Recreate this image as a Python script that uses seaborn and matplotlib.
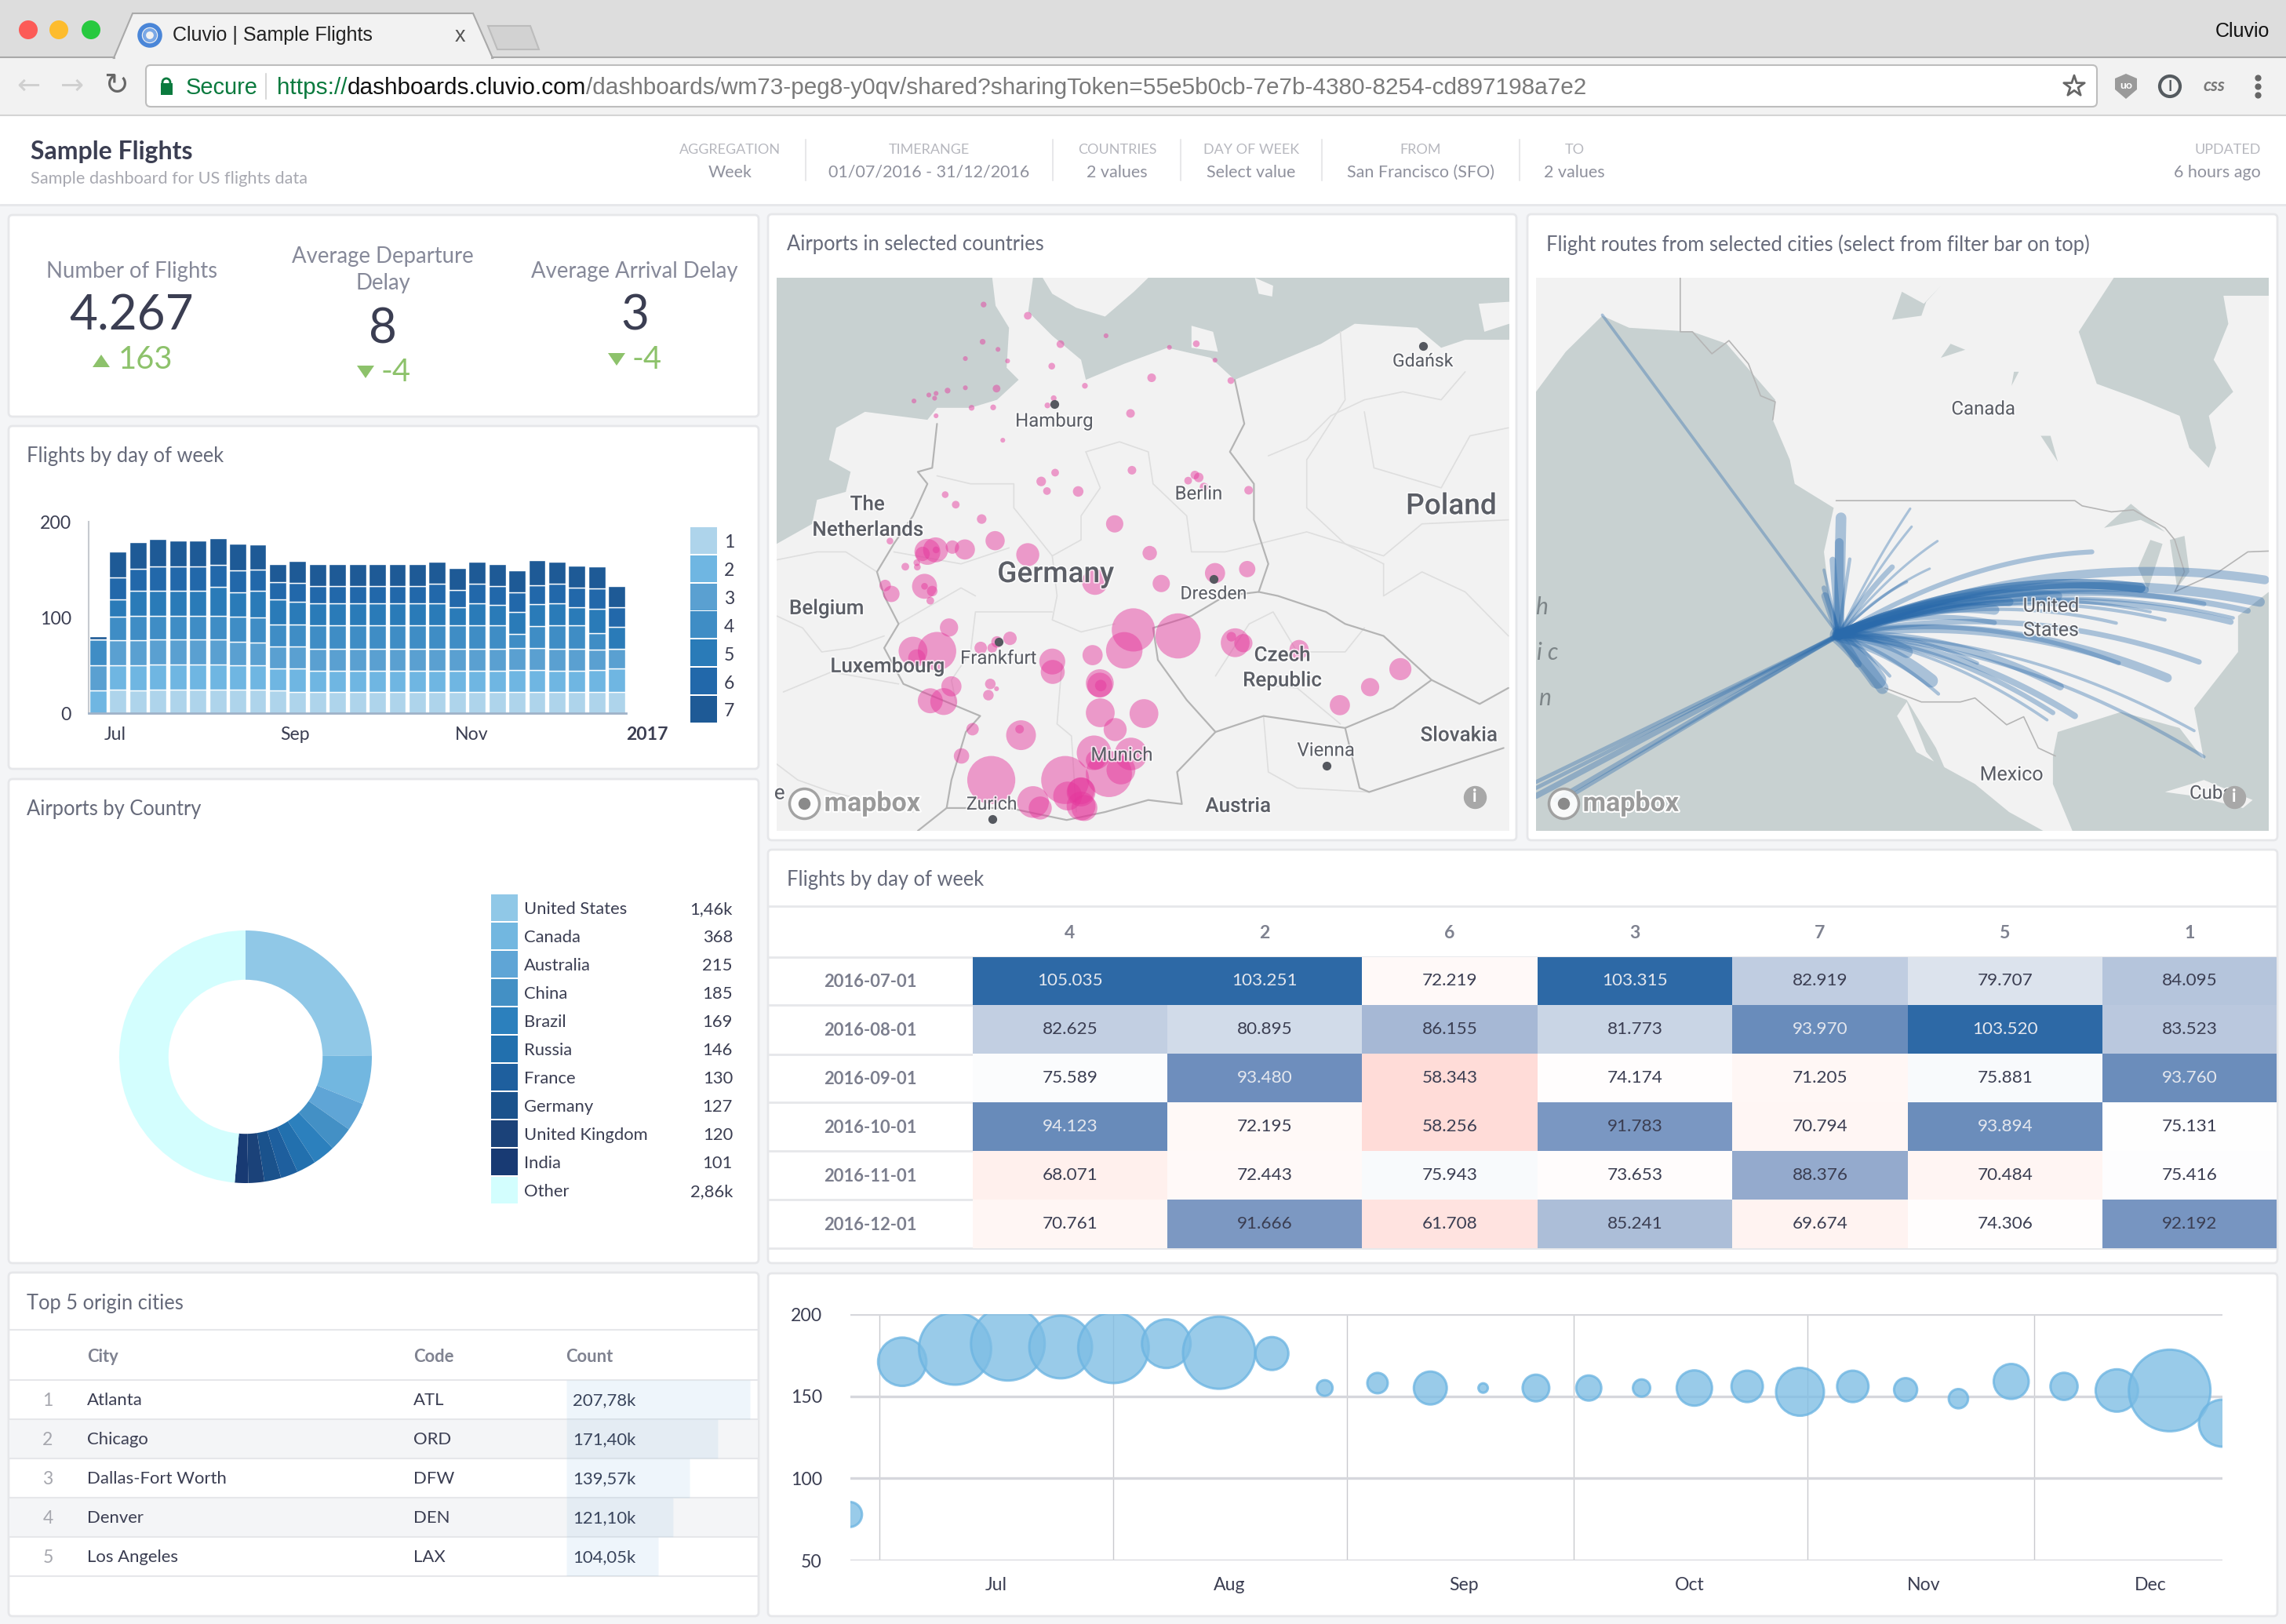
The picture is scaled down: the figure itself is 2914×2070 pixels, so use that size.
"""
Cluvio "Sample Flights" dashboard inside a browser window
"""

import matplotlib
matplotlib.use("Agg")
import matplotlib.pyplot as plt
import matplotlib.dates as mdates
from matplotlib.colors import LinearSegmentedColormap
from matplotlib.patches import FancyBboxPatch, Polygon, Rectangle, Circle
from matplotlib.transforms import ScaledTranslation
import matplotlib.patheffects as pe
import seaborn as sns
import numpy as np
import pandas as pd

W, H = 2914, 2070

# ---- bars: flights per week, stacked by day of week
week_idx = list(range(27))
day_1 = [0, 25, 24, 25, 25, 25, 25, 25, 25, 24, 22, 22, 22, 22, 22, 22, 22, 22, 22, 22, 22, 22, 22, 22, 22, 22, 22]
day_2 = [24, 25, 26, 26, 26, 26, 26, 25, 25, 23, 25, 22, 22, 22, 22, 22, 22, 22, 22, 22, 22, 23, 23, 22, 22, 23, 25]
day_3 = [26, 26, 26, 26, 26, 26, 26, 25, 24, 23, 23, 23, 23, 23, 23, 23, 23, 23, 23, 23, 23, 23, 23, 23, 23, 21, 20]
day_4 = [27, 25, 26, 25, 25, 25, 25, 26, 26, 23, 23, 25, 25, 25, 25, 25, 25, 25, 25, 25, 25, 15, 23, 25, 25, 18, 0]
day_5 = [0, 18, 26, 26, 26, 26, 30, 25, 28, 26, 23, 23, 23, 23, 23, 23, 23, 23, 19, 23, 21, 23, 23, 23, 19, 25, 23]
day_6 = [0, 23, 23, 25, 25, 25, 23, 23, 22, 18, 20, 18, 18, 18, 18, 18, 18, 20, 18, 20, 20, 20, 20, 20, 20, 21, 21]
day_7 = [3, 27, 28, 29, 27, 27, 28, 28, 26, 19, 23, 23, 23, 23, 23, 23, 23, 23, 23, 23, 23, 23, 26, 23, 23, 23, 22]
day_series = [day_1, day_2, day_3, day_4, day_5, day_6, day_7]
day_names = ["1", "2", "3", "4", "5", "6", "7"]
day_colors = ["#aed4eb", "#6fb6e2", "#5aa0d1", "#3f8dc5", "#2a7bb8", "#2268aa", "#1e5a96"]
bar_tick_pos = [0.07, 8.94, 17.66, 26.06]
bar_tick_labels = ["Jul", "Sep", "Nov", "2017"]

# ---- donut
countries = ["United States", "Canada", "Australia", "China", "Brazil", "Russia", "France",
             "Germany", "United Kingdom", "India", "Other"]
airports = [1460, 368, 215, 185, 169, 146, 130, 127, 120, 101, 2860]
airport_labels = ["1,46k", "368", "215", "185", "169", "146", "130", "127", "120", "101", "2,86k"]
country_colors = ["#90c8e7", "#72b7e0", "#5fa5d6", "#4390c5", "#2c80bd", "#2270ae", "#1e5f9e",
                  "#1a528c", "#1b4279", "#183a73", "#d3fefe"]

# ---- top 5 table
cities = ["Atlanta", "Chicago", "Dallas-Fort Worth", "Denver", "Los Angeles"]
codes = ["ATL", "ORD", "DFW", "DEN", "LAX"]
city_counts = [207.78, 171.40, 139.57, 121.10, 104.05]
city_count_labels = ["207,78k", "171,40k", "139,57k", "121,10k", "104,05k"]

# ---- heatmap
heat_cols = ["4", "2", "6", "3", "7", "5", "1"]
heat_rows = ["2016-07-01", "2016-08-01", "2016-09-01", "2016-10-01", "2016-11-01", "2016-12-01"]
heat_4 = [105.035, 82.625, 75.589, 94.123, 68.071, 70.761]
heat_2 = [103.251, 80.895, 93.480, 72.195, 72.443, 91.666]
heat_6 = [72.219, 86.155, 58.343, 58.256, 75.943, 61.708]
heat_3 = [103.315, 81.773, 74.174, 91.783, 73.653, 85.241]
heat_7 = [82.919, 93.970, 71.205, 70.794, 88.376, 69.674]
heat_5 = [79.707, 103.520, 75.881, 93.894, 70.484, 74.306]
heat_1 = [84.095, 83.523, 93.760, 75.131, 75.416, 92.192]
heat_values = [heat_4, heat_2, heat_6, heat_3, heat_7, heat_5, heat_1]

# ---- bubbles: weekly flights and bubble radius
bubble_weeks = pd.date_range("2016-06-27", periods=27, freq="7D")
bubble_flights = [78, 171, 179, 182, 180, 179.5, 182, 176.5, 176, 155, 158, 155, 155, 155, 155, 155,
                  155, 156, 152.7, 156, 154, 148.5, 159, 156, 153.5, 153.5, 133.6]
bubble_radius = [16, 30.8, 46, 47, 40, 45, 31, 46, 21, 10, 13, 21, 6, 17, 16, 11, 22.5, 20, 30.5,
                 20, 14.7, 12.3, 22.3, 17.3, 27, 52, 30]

# ---- map of airports, position on the map crop and radius
airport_x = [447, 539, 445, 477, 607, 702, 834, 890, 929, 409, 497, 589, 797, 962, 658, 474, 409, 372, 348, 333,
             345, 302, 422, 467, 580, 593, 348, 753, 487, 756, 596, 567, 579, 644, 367, 389, 443, 720, 873, 887,
             895, 906, 999, 252, 471, 539, 347, 330, 320, 348, 382, 408, 793, 284, 308, 309, 929, 996, 817, 679,
             324, 324, 340, 242, 255, 336, 759, 852, 740, 375, 502, 475, 441, 465, 300, 350, 308, 971, 963, 988,
             1104, 674, 590, 591, 689, 689, 691, 1315, 1252, 1189, 380, 461, 474, 457, 336, 364, 690, 781, 721,
             525, 522, 424, 401, 677, 754, 463, 617, 708, 733, 680, 650, 650, 622, 650, 550, 565, 657]
airport_y = [232, 260, 325, 344, 331, 310, 339, 330, 371, 367, 373, 386, 415, 422, 435, 442, 440, 447, 454, 458,
             466, 473, 490, 489, 484, 466, 510, 504, 571, 646, 652, 674, 698, 699, 707, 732, 768, 780, 672, 658,
             664, 688, 696, 823, 822, 857, 845, 850, 855, 845, 838, 844, 853, 887, 877, 888, 903, 893, 929, 925,
             936, 936, 948, 934, 955, 972, 1045, 1060, 1096, 1039, 1066, 1075, 1090, 1090, 1098, 1098, 1115, 1077,
             1062, 1078, 1094, 1108, 1124, 1150, 1178, 1183, 1184, 1143, 1188, 1233, 1186, 1180, 1192, 1208, 1222,
             1224, 1252, 1254, 1294, 1308, 1293, 1293, 1360, 1352, 1355, 1420, 1420, 1405, 1395, 1370, 1450, 1447,
             1460, 1485, 1475, 1490, 1490]
airport_r = [6, 8, 6, 5, 8, 5, 5, 7, 5, 5, 5, 7, 9, 7, 6, 8, 5, 6, 5, 5, 5, 5, 6, 6, 6, 6, 5, 9, 5, 9, 8, 10, 8, 11,
             7, 8, 10, 18, 8, 9, 10, 9, 9, 7, 20, 24, 26, 27, 15, 7, 14, 21, 15, 8, 7, 7, 21, 17, 18, 27, 26, 7, 11,
             12, 17, 8, 45, 47, 38, 19, 14, 12, 13, 10, 30, 40, 18, 30, 10, 19, 20, 21, 27, 25, 29, 26, 12, 23, 19,
             21, 21, 11, 5, 11, 26, 28, 30, 30, 24, 31, 9, 13, 16, 36, 34, 50, 50, 48, 30, 20, 30, 28, 30, 30, 33,
             24, 27]

# ---- flight routes from SFO, destination on the map crop and line width
route_x = [1170, 1525, 1515, 1490, 1455, 1460, 1400, 1320, 1290, 1220, 1270, 1270, 1280, 1100, 1000, 970, 970, 1390,
           1325, 1225, 1380, 1400, 1135, 1105, 1090, 1078, 840, 855, 790, 935, 655, 650, 638, 673, 620, 797, 800, 853,
           837, 760, 790, 620, 622, 730, 740, 755, 690, 165, 29, 29, 70, 100, 29]
route_y = [850, 920, 975, 997, 1025, 1015, 980, 1020, 1000, 1028, 940, 940, 945, 960, 975, 995, 1027, 1125,
           1165, 1128, 1297, 1362, 1260, 1187, 1252, 1270, 1172, 1205, 1100, 1128, 765, 825, 870, 868, 895, 742, 787,
           823, 892, 888, 925, 940, 960, 1170, 1190, 1160, 1130, 258, 1425, 1460, 1470, 1460, 1440]
route_w = [10, 18, 20, 12, 12, 7, 10, 7, 6, 7, 20, 20, 14, 18, 18, 20, 10, 11, 18, 9, 6, 7, 13, 15, 10, 6, 28, 7, 25,
           7, 22, 18, 13, 7, 6, 5, 5, 5, 5, 11, 6, 10, 15, 36, 25, 7, 15, 6, 8, 12, 10, 8, 8]

# ---- map outlines, on the same crop coordinates
germany_sea = [(16, 165), (465, 165), (472, 235), (500, 290), (495, 390), (520, 420), (475, 470), (420, 490), (350, 490),
               (330, 520), (200, 500), (140, 540), (125, 620), (170, 650), (160, 700), (100, 720), (90, 780), (16, 830)]
baltic_sea = [(550, 165), (1542, 165), (1542, 320), (1450, 320), (1400, 340), (1350, 290), (1220, 280), (1150, 330),
              (970, 420), (920, 365), (830, 340), (740, 380), (660, 420), (650, 370), (590, 310), (540, 250)]
baltic_land = [
    [(570, 165), (790, 165), (760, 200), (700, 262), (640, 240), (590, 205)],
    [(880, 285), (925, 300), (935, 350), (880, 340)],
    [(1012, 165), (1050, 185), (1048, 212), (1020, 205)],
    [(1478, 230), (1542, 225), (1542, 280), (1490, 300)],
]
country_lines = [
    [(350, 530), (340, 640), (310, 650), (330, 680), (300, 760), (260, 830), (225, 900), (240, 960), (270, 1030),
     (240, 1090), (280, 1180), (380, 1230), (440, 1260), (410, 1300), (380, 1420), (370, 1490), (310, 1547)],
    [(970, 420), (990, 530), (960, 600), (1010, 680), (1010, 770), (1040, 880), (1020, 950), (950, 960), (880, 1010),
     (800, 1040), (810, 1120), (870, 1220), (930, 1300), (850, 1400), (860, 1480), (790, 1470), (700, 1500), (620, 1520),
     (500, 1490), (370, 1490)],
    [(1020, 950), (1060, 960), (1160, 1000), (1200, 1030), (1280, 1060), (1380, 1170), (1300, 1240), (1200, 1290),
     (1030, 1260), (930, 1300)],
    [(1200, 1290), (1230, 1440), (1250, 1450), (1530, 1340)],
    [(1380, 1170), (1480, 1230), (1540, 1190)],
]
region_lines = [
    [(660, 600), (730, 575), (790, 600), (800, 680), (870, 760), (880, 850), (950, 850), (1020, 830)],
    [(660, 600), (690, 690), (650, 760), (650, 820), (590, 860), (600, 960), (590, 1020), (650, 1050), (720, 1030)],
    [(350, 660), (420, 680), (510, 680), (510, 740), (550, 800), (590, 860)],
    [(260, 850), (400, 880), (500, 840)],
    [(430, 960), (400, 940), (270, 1030)],
    [(590, 1000), (430, 1000), (420, 1100), (380, 1170), (390, 1230)],
    [(610, 1130), (600, 1280), (630, 1310), (640, 1500)],
    [(1190, 300), (1200, 470), (1120, 620), (1120, 740), (1200, 830), (1280, 880)],
    [(1240, 500), (1260, 640), (1400, 690), (1460, 560), (1540, 540)],
    [(1040, 610), (1120, 570), (1170, 510), (1240, 470), (1320, 450), (1400, 470), (1450, 400)],
    [(1020, 830), (1120, 800), (1200, 830), (1280, 860), (1360, 780), (1540, 770)],
    [(1280, 880), (1280, 960), (1360, 900), (1450, 950), (1540, 1060)],
    [(16, 1010), (70, 1040), (110, 1100), (170, 1090), (240, 1060)],
    [(16, 870), (100, 850), (160, 850), (225, 900)],
    [(16, 1380), (60, 1420), (130, 1450), (300, 1500)],
    [(30, 1200), (130, 1150), (270, 1180)],
    [(930, 1160), (1000, 1030), (1050, 1000), (1100, 1100), (1200, 1100), (1240, 1040)],
    [(1000, 1180), (1100, 1190), (1190, 1280)],
    [(1030, 1260), (1040, 1400), (1100, 1440), (1250, 1450)],
]
pacific = [(29, 450), (90, 350), (165, 260), (220, 290), (350, 300), (420, 330), (520, 470), (515, 520), (550, 620),
           (560, 680), (640, 740), (620, 850), (640, 1050), (700, 1130), (750, 1200), (790, 1220), (850, 1340),
           (880, 1425), (830, 1350), (790, 1225), (770, 1260), (810, 1350), (930, 1430), (1000, 1500), (1070, 1547),
           (29, 1547)]
gulf = [(1090, 1360), (1100, 1300), (1230, 1250), (1350, 1290), (1400, 1370), (1380, 1240), (1470, 1100), (1470, 1010),
        (1533, 950), (1533, 1547), (1130, 1547), (1090, 1430)]
hudson = [(1215, 165), (1143, 300), (1180, 430), (1270, 470), (1350, 510), (1370, 590), (1410, 640), (1425, 590),
          (1410, 510), (1460, 450), (1420, 370), (1450, 280), (1440, 210), (1533, 210), (1533, 165)]
cuba = [(1320, 1450), (1400, 1420), (1500, 1470), (1480, 1490), (1380, 1460)]
lakes = [
    [(760, 270), (780, 200), (825, 230), (860, 185), (830, 225), (820, 260)],
    [(860, 365), (880, 330), (910, 345)],
    [(1005, 435), (1010, 400), (1020, 400)],
    [(1065, 560), (1085, 560), (1100, 625)],
    [(1195, 790), (1250, 730), (1320, 800), (1270, 770)],
    [(1265, 890), (1290, 820), (1315, 830), (1285, 945)],
    [(1330, 820), (1360, 810), (1370, 900), (1345, 940)],
]
na_borders = [
    [(645, 722), (1135, 722), (1150, 735), (1210, 750), (1255, 745), (1320, 790), (1340, 820), (1360, 900), (1340, 950),
     (1430, 900), (1490, 850), (1533, 848)],
    [(325, 165), (325, 300), (350, 300), (390, 355), (425, 322), (465, 380), (490, 460), (520, 475), (515, 520)],
    [(745, 1190), (820, 1225), (900, 1225), (930, 1215), (995, 1282), (1030, 1262), (1060, 1340), (1095, 1360)],
]

# map labels: text, x, y, size in pixels
germany_labels = [("Gdańsk", 1362, 370, 23), ("Hamburg", 594, 520, 24), ("Berlin", 895, 702, 24), ("The", 205, 728, 26),
                  ("Netherlands", 206, 792, 26), ("Poland", 1421, 733, 37), ("Germany", 597, 903, 37),
                  ("Dresden", 926, 951, 23), ("Belgium", 120, 988, 26), ("Frankfurt", 478, 1113, 24),
                  ("Luxembourg", 247, 1133, 26), ("Czech", 1069, 1105, 26), ("Republic", 1069, 1168, 26),
                  ("Slovakia", 1437, 1305, 26), ("Vienna", 1160, 1343, 24), ("Munich", 735, 1355, 24),
                  ("Zurich", 464, 1477, 23), ("Austria", 977, 1482, 26)]
germany_cities_x = [1362, 594, 926, 478, 1161, 465]
germany_cities_y = [336, 481, 917, 1075, 1385, 1518]
america_labels = [("Canada", 947, 490, 24), ("United", 1086, 982, 25), ("States", 1086, 1042, 25),
                  ("Mexico", 1005, 1403, 25), ("Cuba", 1415, 1450, 24)]

# header filters
filter_names = ["AGGREGATION", "TIMERANGE", "COUNTRIES", "DAY OF WEEK", "FROM", "TO"]
filter_values = ["Week", "01/07/2016 - 31/12/2016", "2 values", "Select value", "San Francisco (SFO)", "2 values"]
filter_x = [931, 1184, 1424, 1595, 1811, 2007]
filter_seps = [1027, 1342, 1505, 1685, 1937]

TEXT_DARK = "#3b3e52"
TEXT_MID = "#666a7a"

sns.set_theme(style="white")
plt.rcParams["font.family"] = ["Lato", "DejaVu Sans"]

fig = plt.figure(figsize=(W / 100, H / 100), dpi=100, facecolor="#f4f5f7")
base = fig.add_axes([0, 0, 1, 1])
base.set_xlim(0, W)
base.set_ylim(H, 0)
base.axis("off")


def pax(x0, y0, x1, y1, **kw):
    # axes placed by pixel corners of the picture
    a = fig.add_axes([x0 / W, 1 - y1 / H, (x1 - x0) / W, (y1 - y0) / H], **kw)
    a.patch.set_alpha(0)
    return a


def px(size):
    return size * 0.72


def txt(x, y, s, size, color=TEXT_DARK, ha="left", va="center", ax=None, **kw):
    return (ax or base).text(x, y + 2, s, fontsize=px(size), color=color, ha=ha, va=va, **kw)


def rect(x0, y0, x1, y1, color, z=1, **kw):
    base.add_patch(Rectangle((x0, y0), x1 - x0, y1 - y0, facecolor=color, edgecolor="none", zorder=z, **kw))


def card(x0, y0, x1, y1):
    base.add_patch(FancyBboxPatch((x0, y0), x1 - x0, y1 - y0, boxstyle="round,pad=0,rounding_size=5",
                                  facecolor="white", edgecolor="#e6e7ea", linewidth=2, zorder=1))


def triangle(cx, cy, up=True):
    tip, foot = (cy - 8, cy + 8) if up else (cy + 8, cy - 8)
    base.add_patch(Polygon([(cx - 11, foot), (cx + 11, foot), (cx, tip)], facecolor=GREEN, edgecolor="none", zorder=3))


# ---- browser chrome
rect(0, 0, W, 73, "#dddddd")
rect(0, 73, W, 147, "#f2f2f2")
base.plot([0, W], [73, 73], color="#a9a9a9", lw=1.5, zorder=2)
base.plot([0, W], [147, 147], color="#d4d4d4", lw=1.5, zorder=2)
base.add_patch(Polygon([(145, 74), (169, 17), (603, 17), (628, 74)], facecolor="#f2f2f2", edgecolor="#a9a9a9", lw=1.5, zorder=3))
rect(147, 72, 626, 76, "#f2f2f2", z=4)
base.add_patch(Polygon([(622, 33), (676, 33), (687, 63), (634, 63)], facecolor="#d2d2d2", edgecolor="#bcbcbc", lw=1.5, zorder=2))
for cx, col in zip([36, 75, 116], ["#fc5b57", "#fdbc2e", "#27c93f"]):
    base.add_patch(Circle((cx, 38), 12, facecolor=col, edgecolor="none", zorder=3))
base.add_patch(Circle((191, 45), 13, facecolor="none", edgecolor="#4a86d8", lw=4, zorder=5))
base.add_patch(Circle((191, 45), 7, facecolor="none", edgecolor="#7aa8e6", lw=3, zorder=5))
txt(220, 43, "Cluvio | Sample Flights", 25, "#222222", family="Liberation Sans", zorder=5)
txt(586, 44, "x", 27, "#555555", ha="center", family="Liberation Sans", zorder=5)
txt(2893, 38, "Cluvio", 25, "#111111", ha="right", family="Liberation Sans", zorder=5)
txt(36, 108, "←", 36, "#d0d0d0", ha="center", family="DejaVu Sans", zorder=5)
txt(92, 108, "→", 36, "#d0d0d0", ha="center", family="DejaVu Sans", zorder=5)
txt(148, 108, "↻", 38, "#666666", ha="center", family="DejaVu Sans", zorder=5)
base.add_patch(FancyBboxPatch((186, 83), 2487, 53, boxstyle="round,pad=0,rounding_size=6",
                              facecolor="white", edgecolor="#bdbdbd", lw=1.5, zorder=3))
rect(205, 106, 220, 121, "#0b7a3e", z=5)
base.add_patch(Circle((212, 105), 5, facecolor="none", edgecolor="#0b7a3e", lw=2, zorder=5))
txt(237, 110, "Secure", 29, "#0b7a3e", family="Liberation Sans", zorder=5)
base.plot([339, 339], [94, 126], color="#d8d8d8", lw=1.5, zorder=5)
url_parts = [("https://", "#0b7a3e"), ("dashboards.cluvio.com", "#111111"),
             ("/dashboards/wm73-peg8-y0qv/shared?sharingToken=55e5b0cb-7e7b-4380-8254-cd897198a7e2", "#7a7a7a")]
url_x = 353
renderer = fig.canvas.get_renderer()
for part, col in url_parts:
    t = txt(url_x, 110, part, 29.7, col, family="Liberation Sans", zorder=5)
    url_x += t.get_window_extent(renderer).width
base.scatter([2644], [110], marker="*", s=400, facecolor="none", edgecolor="#666666", lw=2, zorder=5)
base.add_patch(Polygon([(2696, 100), (2710, 94), (2724, 100), (2724, 114), (2710, 126), (2696, 114)], facecolor="#9a9a9a", edgecolor="none", zorder=5))
txt(2710, 107, "uo", 14, "white", ha="center", weight="bold", zorder=6)
base.add_patch(Circle((2766, 110), 13, facecolor="none", edgecolor="#555b60", lw=3, zorder=5))
txt(2766, 108, "I", 18, "#555b60", ha="center", weight="bold", zorder=6)
txt(2822, 108, "css", 22, "#777777", ha="center", weight="bold", style="italic", zorder=5)
base.scatter([2878, 2878, 2878], [99, 110, 121], s=24, color="#666666", zorder=5)

# ---- dashboard header
rect(0, 148, W, 260, "white")
base.plot([0, W], [261, 261], color="#e6e7ea", lw=2, zorder=2)
txt(39, 191, "Sample Flights", 32, TEXT_DARK, weight="bold", zorder=3)
txt(39, 226, "Sample dashboard for US flights data", 21.8, "#a8a9b1", zorder=3)
for fx, name, val in zip(filter_x, filter_names, filter_values):
    txt(fx, 189, name, 18, "#b7b8bf", ha="center", zorder=3)
    txt(fx, 218, val, 21.5, "#8f919d", ha="center", zorder=3)
for sx in filter_seps:
    base.plot([sx, sx], [178, 230], color="#e8e8ea", lw=1.5, zorder=3)
txt(2882, 189, "UPDATED", 18, "#b7b8bf", ha="right", zorder=3)
txt(2882, 218, "6 hours ago", 21.5, "#8f919d", ha="right", zorder=3)

for c in [(11, 274, 967, 531), (11, 543, 967, 980), (11, 993, 967, 1610), (11, 1622, 967, 2060),
          (979, 273, 1933, 1071), (1947, 273, 2903, 1071), (979, 1083, 2903, 1610), (979, 1623, 2903, 2060)]:
    card(*c)

# ---- KPIs
GREEN = "#8dc26b"
KPI_GREY = "#868999"
txt(168, 344, "Number of Flights", 27.5, KPI_GREY, ha="center", zorder=3)
txt(168, 401, "4.267", 62, TEXT_DARK, ha="center", zorder=3)
triangle(129, 460)
txt(151, 456, "163", 40, GREEN, zorder=3)
txt(488, 325, "Average Departure", 27.5, KPI_GREY, ha="center", zorder=3)
txt(488, 359, "Delay", 27.5, KPI_GREY, ha="center", zorder=3)
txt(488, 418, "8", 62, TEXT_DARK, ha="center", zorder=3)
triangle(466, 474, up=False)
txt(485, 472, "-4", 40, GREEN, zorder=3)
txt(809, 344, "Average Arrival Delay", 27.5, KPI_GREY, ha="center", zorder=3)
txt(809, 401, "3", 62, TEXT_DARK, ha="center", zorder=3)
triangle(786, 458, up=False)
txt(805, 456, "-4", 40, GREEN, zorder=3)

# ---- stacked bars
txt(34, 580, "Flights by day of week", 25.5, TEXT_MID, zorder=3)
ax_bar = pax(113, 665, 798, 909)
bottom = np.zeros(27)
for values, col in zip(day_series, day_colors):
    sns.barplot(x=week_idx, y=values, bottom=bottom, color=col, saturation=1, native_scale=True, width=0.86, ax=ax_bar)
    bottom += np.array(values)
ax_bar.set_xlim(-0.47, 26.46)
ax_bar.set_ylim(0, 200)
ax_bar.set_yticks([0, 100, 200])
ax_bar.set_xticks(bar_tick_pos)
ax_bar.set_xticklabels(bar_tick_labels)
ax_bar.tick_params(axis="y", length=10, width=1.5, color="#d3d5d9", labelsize=px(23), labelcolor=TEXT_DARK, pad=6)
ax_bar.tick_params(axis="x", length=7, width=1.5, color="#c8cbd0", labelsize=px(23), labelcolor=TEXT_DARK, pad=5)
for lab, dx in zip(ax_bar.get_xticklabels(), [0.20, 0.24, 0.27, 0.37]):
    lab.set_transform(lab.get_transform() + ScaledTranslation(dx, 0, fig.dpi_scale_trans))
ax_bar.get_xticklabels()[-1].set_fontweight("bold")
sns.despine(ax=ax_bar, top=True, right=True)
for side in ["left", "bottom"]:
    ax_bar.spines[side].set_color("#c6cad0")
    ax_bar.spines[side].set_linewidth(1.5)
ax_bar.spines["bottom"].set_color("#9fb2c8")
ax_bar.spines["bottom"].set_linewidth(2)
ax_bar.set_xlabel("")
ax_bar.set_ylabel("")
for i, (name, col) in enumerate(zip(day_names, day_colors)):
    rect(880, 672 + i * 35.8, 914, 672 + i * 35.8 + 34, col, z=3)
    txt(923, 690 + i * 35.8, name, 23, TEXT_DARK, zorder=3)

# ---- donut
txt(34, 1030, "Airports by Country", 25.5, TEXT_MID, zorder=3)
ax_pie = pax(313 - 164, 1347 - 164, 313 + 164, 1347 + 164)
ax_pie.pie(airports, colors=sns.color_palette(country_colors), startangle=90, counterclock=False, radius=1,
           wedgeprops={"width": 0.39, "linewidth": 0})
ax_pie.set_xlim(-164 / 161, 164 / 161)
ax_pie.set_ylim(-164 / 161, 164 / 161)
for i, (name, lab, col) in enumerate(zip(countries, airport_labels, country_colors)):
    y0 = 1140 + i * 36
    rect(626, y0, 660, y0 + 34, col, z=3)
    txt(668, y0 + 17, name, 22, TEXT_DARK, zorder=3)
    txt(934, y0 + 17, lab, 22, TEXT_DARK, ha="right", zorder=3)

# ---- top 5 origin cities
txt(34, 1660, "Top 5 origin cities", 25.5, TEXT_MID, zorder=3)
row_edges = [1759, 1809, 1859, 1909, 1959, 2009]
for i in [1, 3]:
    rect(12, row_edges[i], 966, row_edges[i + 1], "#f4f5f7", z=2)
ax_top = pax(722, 1759, 967, 2009)
sns.barplot(x=city_counts, y=cities, orient="h", width=1, color="#2a8bd0", saturation=1, alpha=0.08, ax=ax_top)
ax_top.set_xlim(0, 245 / 1.126)
ax_top.axis("off")
for yy in [1695, 1759] + row_edges[1:]:
    base.plot([12, 966], [yy, yy], color="#e6e7ea", lw=1.5, zorder=3)
txt(111, 1727, "City", 22, "#7f8290", weight="bold", zorder=3)
txt(527, 1727, "Code", 22, "#7f8290", weight="bold", zorder=3)
txt(721, 1727, "Count", 22, "#7f8290", weight="bold", zorder=3)
for i in range(5):
    yy = 1783 + i * 50
    txt(61, yy, str(i + 1), 23, "#a6a7ae", ha="center", zorder=3)
    txt(111, yy, cities[i], 22.2, TEXT_DARK, zorder=3)
    txt(527, yy, codes[i], 22.2, TEXT_DARK, zorder=3)
    txt(730, yy, city_count_labels[i], 22.2, TEXT_DARK, zorder=3)

# ---- heatmap, one column per axes because the columns differ in width
txt(1003, 1120, "Flights by day of week", 25.5, TEXT_MID, zorder=3)
base.plot([980, 2902], [1155, 1155], color="#e6e7ea", lw=2, zorder=3)
col_edges = [1240, 1488, 1736, 1960, 2208, 2432, 2680, 2902]
heat_cmap = LinearSegmentedColormap.from_list("heat", [
    (0.0, "#ffdcd8"), ((68 - 58) / 46, "#fff0ed"), ((75 - 58) / 46, "#ffffff"), ((80 - 58) / 46, "#d9e1ec"),
    ((85 - 58) / 46, "#aebfd9"), ((90 - 58) / 46, "#89a1c8"), ((94 - 58) / 46, "#6a8cbb"),
    ((103 - 58) / 46, "#2d69a6"), (1.0, "#2d69a6")])
for j, (col_name, vals) in enumerate(zip(heat_cols, heat_values)):
    ax_h = pax(col_edges[j], 1219.5, col_edges[j + 1], 1591)
    frame = pd.DataFrame({col_name: vals}, index=heat_rows)
    sns.heatmap(frame, ax=ax_h, cmap=heat_cmap, vmin=58, vmax=104, cbar=False, xticklabels=False, yticklabels=False,
                annot=frame.map(lambda v: f"{v:.3f}"), fmt="", annot_kws={"fontsize": px(22.5)})
    for label, v in zip(ax_h.texts, vals):
        label.set_color("#e4e7ee" if v > 92.5 else TEXT_DARK)
    ax_h.set_xlabel("")
    ax_h.set_ylabel("")
    txt((col_edges[j] + col_edges[j + 1]) / 2, 1187, col_name, 23, "#7f8290", ha="center", weight="bold", zorder=3)
for yy in [1219.5, 1281, 1343.5, 1405, 1467, 1529, 1591]:
    base.plot([980, 2902], [yy, yy], color="#e6e7ea", lw=2, zorder=8)
for i, name in enumerate(heat_rows):
    txt(1109.5, 1249 + i * 62, name, 22, "#7c7f8e", ha="center", weight="bold", zorder=3)

# ---- bubbles
ax_bub = pax(1084, 1675, 2833, 1989)
sns.scatterplot(x=bubble_weeks, y=bubble_flights, s=[(2 * r * 0.72) ** 2 for r in bubble_radius], color="#7dbde4",
                alpha=0.78, edgecolor="#6db5e2", linewidth=2.2, legend=False, ax=ax_bub)
ax_bub.set_xlim(pd.Timestamp("2016-06-27 03:00"), pd.Timestamp("2016-12-26"))
ax_bub.set_ylim(50, 200)
ax_bub.set_yticks([50, 100, 150, 200])
ax_bub.grid(axis="y", color="#d6d7dc", lw=2.4, zorder=0)
ax_bub.grid(axis="x", which="major", color="#c9cace", lw=1, zorder=0)
ax_bub.set_axisbelow(True)
ax_bub.xaxis.set_major_locator(mdates.MonthLocator())
ax_bub.xaxis.set_major_formatter(plt.NullFormatter())
ax_bub.xaxis.set_minor_locator(mdates.MonthLocator(bymonthday=16))
ax_bub.xaxis.set_minor_formatter(mdates.DateFormatter("%b"))
ax_bub.tick_params(axis="x", which="major", length=4, width=1, color="#c9cace")
ax_bub.tick_params(axis="x", which="minor", length=0, labelsize=px(23), labelcolor=TEXT_DARK, pad=15)
ax_bub.tick_params(axis="y", length=0, labelsize=px(23), labelcolor=TEXT_DARK, pad=26)
for lab in ax_bub.xaxis.get_minorticklabels():
    lab.set_transform(lab.get_transform() + ScaledTranslation(0.04, 0, fig.dpi_scale_trans))
sns.despine(ax=ax_bub, left=True, bottom=True)
ax_bub.set_xlabel("")
ax_bub.set_ylabel("")


# ---- maps
def map_axes(x0, y0, x1, y1, xlim, ylim, land):
    a = pax(x0, y0, x1, y1)
    a.patch.set_alpha(1)
    a.set_facecolor(land)
    a.set_xlim(*xlim)
    a.set_ylim(*ylim)
    a.set_xticks([])
    a.set_yticks([])
    for s in a.spines.values():
        s.set_visible(False)
    return a


def draw_lines(a, lines, color, lw):
    for line in lines:
        xs, ys = zip(*line)
        a.plot(xs, ys, color=color, lw=lw, solid_joinstyle="round", zorder=2)


def map_label(a, x, y, s, size, color="#5b5e66", **kw):
    a.text(x, y + 4, s, fontsize=px(size), color=color, ha="center", va="center", family="Roboto", zorder=7,
           path_effects=[pe.withStroke(linewidth=2.5, foreground="white", alpha=0.75)], **kw)


def mapbox_mark(a, x, y, sx):
    a.scatter([x], [y], s=(38 * 0.72) ** 2, facecolor="white", edgecolor="#9a9a9a", linewidths=2.5, alpha=0.9, zorder=8)
    a.scatter([x], [y], s=(14 * 0.72) ** 2, color="#8a8a8a", zorder=9)
    a.text(x + sx, y + 2, "mapbox", fontsize=px(34), color="#9a9a9a", weight="bold", va="center", family="Roboto", zorder=9,
           path_effects=[pe.withStroke(linewidth=3, foreground="white")])


WATER = "#c8d1d1"
txt(1003, 310, "Airports in selected countries", 25.5, TEXT_MID, zorder=3)
ax_de = map_axes(990, 354, 1924, 1059, (16, 1542), (1547, 165), "#f2f2f2")
for poly in [germany_sea, baltic_sea]:
    ax_de.add_patch(Polygon(poly, facecolor=WATER, edgecolor="none", zorder=1))
for poly in baltic_land:
    ax_de.add_patch(Polygon(poly, facecolor="#f2f2f2", edgecolor="none", zorder=1.5))
draw_lines(ax_de, region_lines, "#dedede", 1.2)
draw_lines(ax_de, country_lines, "#b4b4b4", 1.6)
sns.scatterplot(x=airport_x, y=airport_y, s=[(2 * r / 1.633 * 0.72) ** 2 for r in airport_r], color="#e5369c",
                alpha=0.47, linewidth=0, legend=False, ax=ax_de, zorder=4)
ax_de.scatter(germany_cities_x, germany_cities_y, s=50, color="#55585f", zorder=6)
ax_de.set_xlim(16, 1542)
ax_de.set_ylim(1547, 165)
ax_de.set_xlabel("")
ax_de.set_ylabel("")
for s, x, y, size in germany_labels:
    map_label(ax_de, x, y, s, size, weight="medium" if size >= 26 else "normal")
map_label(ax_de, 22, 1450, "e", 26)
mapbox_mark(ax_de, 73, 1478, 42)
ax_de.scatter([1470], [1462], s=(28 * 0.72) ** 2, color="#a8a8a8", zorder=8)
ax_de.text(1470, 1462, "i", fontsize=px(22), color="white", weight="bold", ha="center", va="center", zorder=9)

txt(1971, 310, "Flight routes from selected cities (select from filter bar on top)", 25.5, TEXT_MID, zorder=3)
ax_us = map_axes(1958, 354, 2892, 1059, (29, 1533), (1547, 165), "#f2f2f2")
for poly in [pacific, gulf, hudson] + lakes:
    ax_us.add_patch(Polygon(poly, facecolor=WATER, edgecolor="none", zorder=1))
ax_us.add_patch(Polygon(cuba, facecolor="#f2f2f2", edgecolor="none", zorder=1))
draw_lines(ax_us, na_borders, "#b5b5b5", 1.2)
sfo_x, sfo_y = 650, 1058
for dx, dy, w in zip(route_x, route_y, route_w):
    # great circle look: routes to the east bow upwards
    lift = 0.17 * max(dx - sfo_x, 0)
    t = np.linspace(0, 1, 40)
    cx, cy = (sfo_x + dx) / 2, (sfo_y + dy) / 2 - lift
    xs = (1 - t) ** 2 * sfo_x + 2 * t * (1 - t) * cx + t ** 2 * dx
    ys = (1 - t) ** 2 * sfo_y + 2 * t * (1 - t) * cy + t ** 2 * dy
    ax_us.plot(xs, ys, color="#2a6aab", alpha=0.36, lw=w / 1.61 * 0.72, solid_capstyle="round", zorder=4)
for s, x, y, size in america_labels:
    map_label(ax_us, x, y, s, size)
for s, x, y in [("h", 40, 988), ("i c", 52, 1102), ("n", 46, 1215)]:
    ax_us.text(x, y, s, fontsize=px(30), color="#7d8588", style="italic", ha="center", va="center", zorder=7)
mapbox_mark(ax_us, 85, 1478, 40)
ax_us.scatter([1462], [1462], s=(28 * 0.72) ** 2, color="#a8a8a8", zorder=8)
ax_us.text(1462, 1462, "i", fontsize=px(22), color="white", weight="bold", ha="center", va="center", zorder=9)

fig.savefig("out.png", dpi=100, facecolor=fig.get_facecolor())
